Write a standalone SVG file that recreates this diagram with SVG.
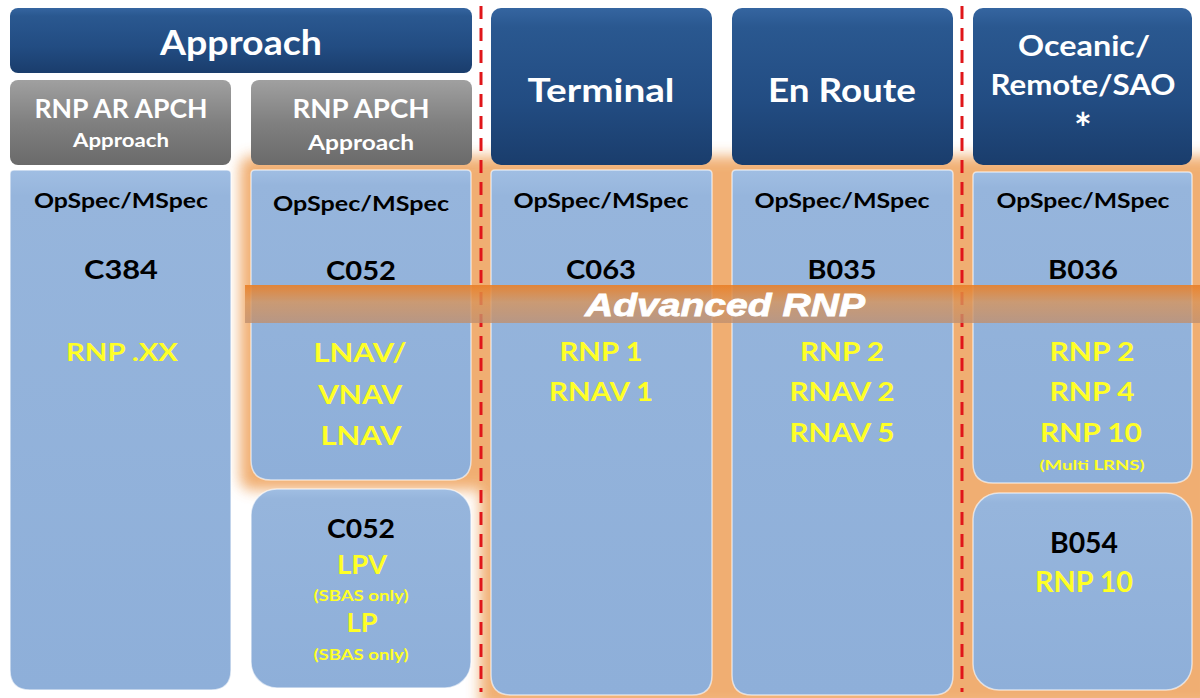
<svg xmlns="http://www.w3.org/2000/svg" width="1200" height="698" viewBox="0 0 1200 698">
<defs>
<linearGradient id="hdr" x1="0" y1="0" x2="0" y2="1">
<stop offset="0" stop-color="#3565a0"/><stop offset="0.12" stop-color="#2a5890"/><stop offset="0.6" stop-color="#224c82"/><stop offset="1" stop-color="#1a3d6c"/>
</linearGradient>
<linearGradient id="gry" x1="0" y1="0" x2="0" y2="1">
<stop offset="0" stop-color="#a0a0a0"/><stop offset="0.5" stop-color="#808080"/><stop offset="1" stop-color="#6a6a6a"/>
</linearGradient>
<linearGradient id="bdy" x1="0" y1="0" x2="0" y2="1">
<stop offset="0" stop-color="#a0bee3"/><stop offset="0.05" stop-color="#96b5dc"/><stop offset="1" stop-color="#8eafd9"/>
</linearGradient>
<linearGradient id="band" x1="0" y1="0" x2="0" y2="1">
<stop offset="0" stop-color="#ea7f26" stop-opacity="0.9"/><stop offset="0.45" stop-color="#d8945a" stop-opacity="0.8"/><stop offset="1" stop-color="#c09070" stop-opacity="0.8"/>
</linearGradient>
<filter id="glow" x="-10%" y="-10%" width="120%" height="120%"><feGaussianBlur stdDeviation="7"/></filter>
</defs>
<style>
.t{font-family:Lato,"Open Sans","Liberation Sans",sans-serif;font-weight:700;text-anchor:middle}
.w{fill:#ffffff}
.k{fill:#000000}
.y{fill:#ffff26}
.h{fill:url(#hdr)}
.g{fill:url(#gry)}
.b{fill:url(#bdy);stroke:#ffffff;stroke-width:1.5;stroke-opacity:0.6}
.dash{stroke:#e0161a;stroke-width:3;stroke-dasharray:13 9;fill:none}
</style>
<rect width="1200" height="698" fill="#ffffff"/>
<g id="glow-bg" filter="url(#glow)" fill="#eea15a" opacity="0.85">
<rect x="240" y="156" width="245" height="334" rx="12"/>
<rect x="480" y="156" width="735" height="552"/>
</g>
<g id="connectors">
<line class="dash" x1="481" y1="6" x2="481" y2="692"/>
<line class="dash" x1="962" y1="6" x2="962" y2="692"/>
</g>
<g id="approach-header">
<rect class="h" x="10" y="8" width="462" height="65" rx="8"/>
<text class="t w" x="241" y="55" font-size="35" textLength="162" lengthAdjust="spacingAndGlyphs">Approach</text>
</g>
<g id="rnp-ar-apch">
<rect class="g" x="10" y="80" width="221" height="85" rx="8"/>
<text class="t w" x="121" y="118" font-size="26" textLength="173" lengthAdjust="spacingAndGlyphs">RNP AR APCH</text>
<text class="t w" x="121" y="147" font-size="19" textLength="96" lengthAdjust="spacingAndGlyphs">Approach</text>
</g>
<g id="rnp-apch">
<rect class="g" x="251" y="80" width="221" height="85" rx="8"/>
<text class="t w" x="361" y="118" font-size="26" textLength="137" lengthAdjust="spacingAndGlyphs">RNP APCH</text>
<text class="t w" x="361" y="150" font-size="20" textLength="106" lengthAdjust="spacingAndGlyphs">Approach</text>
</g>
<g id="terminal-header">
<rect class="h" x="491" y="8" width="221" height="157" rx="10"/>
<text class="t w" x="601" y="102" font-size="33" textLength="147" lengthAdjust="spacingAndGlyphs">Terminal</text>
</g>
<g id="enroute-header">
<rect class="h" x="732" y="8" width="221" height="157" rx="10"/>
<text class="t w" x="842" y="102" font-size="33" textLength="148" lengthAdjust="spacingAndGlyphs">En Route</text>
</g>
<g id="oceanic-header">
<rect class="h" x="973" y="8" width="219" height="157" rx="10"/>
<text class="t w" x="1084" y="56" font-size="28" textLength="132" lengthAdjust="spacingAndGlyphs">Oceanic/</text>
<text class="t w" x="1083" y="95" font-size="28" textLength="185" lengthAdjust="spacingAndGlyphs">Remote/SAO</text>
<text class="t w" x="1083" y="144" font-size="42">*</text>
</g>
<g id="ar-body">
<path class="b" d="M10,174 Q10,170 14,170 L227,170 Q231,170 231,174 L231,670 Q231,690 211,690 L30,690 Q10,690 10,670 Z"/>
<text class="t k" x="121" y="208" font-size="20" textLength="174" lengthAdjust="spacingAndGlyphs">OpSpec/MSpec</text>
<text class="t k" x="121" y="279" font-size="27" textLength="74" lengthAdjust="spacingAndGlyphs">C384</text>
<text class="t y" x="122" y="361" font-size="25" textLength="112" lengthAdjust="spacingAndGlyphs">RNP .XX</text>
</g>
<g id="apch-body">
<path class="b" d="M251,174 Q251,170 255,170 L467,170 Q471,170 471,174 L471,460 Q471,480 451,480 L271,480 Q251,480 251,460 Z"/>
<text class="t k" x="361" y="211" font-size="20" textLength="176" lengthAdjust="spacingAndGlyphs">OpSpec/MSpec</text>
<text class="t k" x="361" y="280" font-size="27" textLength="70" lengthAdjust="spacingAndGlyphs">C052</text>
<text class="t y" x="360" y="362" font-size="27" textLength="93" lengthAdjust="spacingAndGlyphs">LNAV/</text>
<text class="t y" x="360" y="404" font-size="27" textLength="84" lengthAdjust="spacingAndGlyphs">VNAV</text>
<text class="t y" x="361" y="445" font-size="27" textLength="81" lengthAdjust="spacingAndGlyphs">LNAV</text>
</g>
<g id="lpv-box">
<rect class="b" x="251" y="489" width="220" height="199" rx="26"/>
<text class="t k" x="361" y="538" font-size="27" textLength="68" lengthAdjust="spacingAndGlyphs">C052</text>
<text class="t y" x="362" y="574" font-size="27" textLength="50" lengthAdjust="spacingAndGlyphs">LPV</text>
<text class="t y" x="361" y="601" font-size="15" textLength="95" lengthAdjust="spacingAndGlyphs">(SBAS only)</text>
<text class="t y" x="362" y="632" font-size="27" textLength="31" lengthAdjust="spacingAndGlyphs">LP</text>
<text class="t y" x="361" y="660" font-size="15" textLength="95" lengthAdjust="spacingAndGlyphs">(SBAS only)</text>
</g>
<g id="terminal-body">
<path class="b" d="M491,174 Q491,170 495,170 L708,170 Q712,170 712,174 L712,675 Q712,695 692,695 L511,695 Q491,695 491,675 Z"/>
<text class="t k" x="601" y="208" font-size="20" textLength="175" lengthAdjust="spacingAndGlyphs">OpSpec/MSpec</text>
<text class="t k" x="601" y="279" font-size="27" textLength="70" lengthAdjust="spacingAndGlyphs">C063</text>
<text class="t y" x="601" y="361" font-size="26" textLength="83" lengthAdjust="spacingAndGlyphs">RNP 1</text>
<text class="t y" x="601" y="401" font-size="26" textLength="104" lengthAdjust="spacingAndGlyphs">RNAV 1</text>
</g>
<g id="enroute-body">
<path class="b" d="M732,174 Q732,170 736,170 L949,170 Q953,170 953,174 L953,675 Q953,695 933,695 L752,695 Q732,695 732,675 Z"/>
<text class="t k" x="842" y="208" font-size="20" textLength="175" lengthAdjust="spacingAndGlyphs">OpSpec/MSpec</text>
<text class="t k" x="842" y="279" font-size="27" textLength="69" lengthAdjust="spacingAndGlyphs">B035</text>
<text class="t y" x="842" y="361" font-size="26" textLength="84" lengthAdjust="spacingAndGlyphs">RNP 2</text>
<text class="t y" x="842" y="401" font-size="26" textLength="105" lengthAdjust="spacingAndGlyphs">RNAV 2</text>
<text class="t y" x="842" y="442" font-size="26" textLength="105" lengthAdjust="spacingAndGlyphs">RNAV 5</text>
</g>
<g id="oceanic-body">
<path class="b" d="M973,176 Q973,172 977,172 L1188,172 Q1192,172 1192,176 L1192,463 Q1192,483 1172,483 L993,483 Q973,483 973,463 Z"/>
<text class="t k" x="1083" y="208" font-size="20" textLength="173" lengthAdjust="spacingAndGlyphs">OpSpec/MSpec</text>
<text class="t k" x="1083" y="279" font-size="27" textLength="70" lengthAdjust="spacingAndGlyphs">B036</text>
<text class="t y" x="1092" y="361" font-size="26" textLength="85" lengthAdjust="spacingAndGlyphs">RNP 2</text>
<text class="t y" x="1092" y="401" font-size="26" textLength="85" lengthAdjust="spacingAndGlyphs">RNP 4</text>
<text class="t y" x="1091" y="442" font-size="26" textLength="102" lengthAdjust="spacingAndGlyphs">RNP 10</text>
<text class="t y" x="1092" y="470" font-size="13" textLength="105" lengthAdjust="spacingAndGlyphs">(Multi LRNS)</text>
</g>
<g id="b054-box">
<rect class="b" x="973" y="493" width="219" height="197" rx="26"/>
<text class="t k" x="1084" y="553" font-size="29" textLength="68" lengthAdjust="spacingAndGlyphs">B054</text>
<text class="t y" x="1084" y="592" font-size="29" textLength="98" lengthAdjust="spacingAndGlyphs">RNP 10</text>
</g>
<g id="advanced-rnp">
<rect x="245" y="285" width="955" height="38" fill="url(#band)"/>
<text x="725" y="316" font-family="'Liberation Sans',Arial,sans-serif" font-weight="700" font-style="italic" font-size="32" text-anchor="middle" fill="#ffffff" stroke="#ffffff" stroke-width="0.8" textLength="280" lengthAdjust="spacingAndGlyphs">Advanced RNP</text>
</g>
</svg>
